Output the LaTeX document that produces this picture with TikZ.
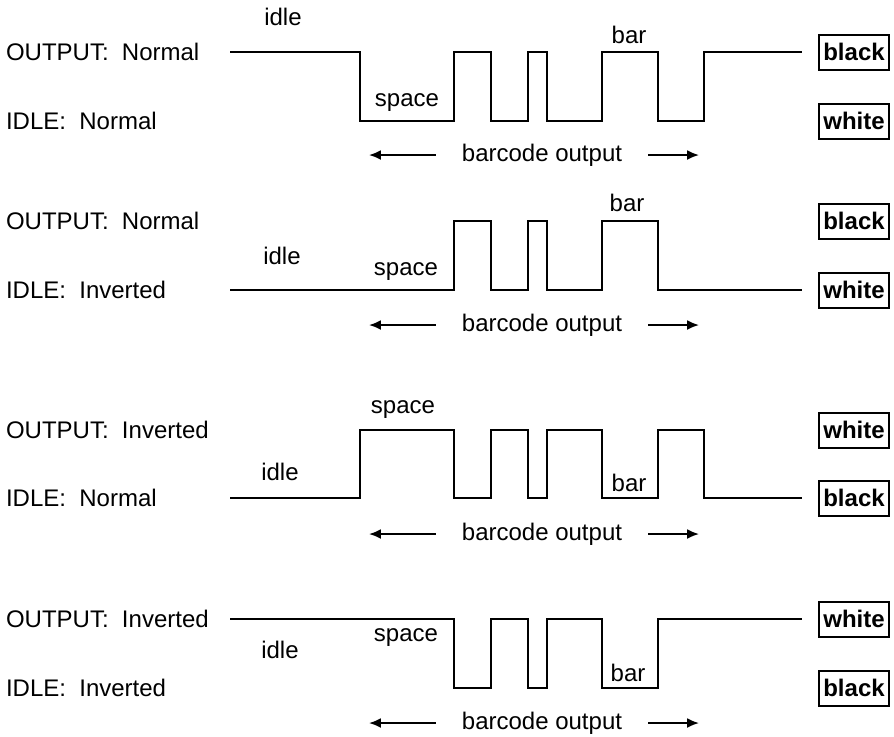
\documentclass[tikz,border=0pt]{standalone}
\usepackage{fontspec}
\setmainfont{Liberation Sans}
\usetikzlibrary{arrows.meta}

\tikzset{
  statebox/.style={draw, line width=1pt, font=\fontsize{12}{14}\selectfont\bfseries,
    minimum width=35pt, minimum height=17.5pt, inner sep=0pt},
  side/.style={anchor=west, inner sep=0pt},
  barcode/.style={inner xsep=12.5pt, inner ysep=0pt}
}

\begin{document}
\begin{tikzpicture}[x=0.5pt, y=-0.5pt, line width=1pt,
  font=\fontsize{12}{14}\selectfont, >={Latex[length=6pt,width=5pt]}]
\useasboundingbox (0,0) rectangle (894,736);

% OUTPUT normal, IDLE normal
\node (o1) at (5,52) [side] {OUTPUT:~ Normal};
\node (i1) at (5,121) [side] {IDLE:~ Normal};
\node (k1) at (854,52) [statebox] {black};
\node (w1) at (854,121) [statebox] {white};
\draw (230,52) -| (360,121) -| (454,52) -| (491,121) -| (528,52) -| (547,121)
  -| (602,52) -| (658,121) -| (704,52) -- (802,52);
\node (idle1) at (283,17) {idle};
\node (space1) at (407,103) {space};
\node (bar1) at (629,35) {bar};
\node (bc1) at (542,155) [barcode] {barcode output};
\draw [->] (bc1.west) -- ++(-67,0) coordinate (l1);
\draw [->] (bc1.east) -- ++(51,0) coordinate (r1);

% OUTPUT normal, IDLE inverted
\node (o2) at (5,221) [side] {OUTPUT:~ Normal};
\node (i2) at (5,290) [side] {IDLE:~ Inverted};
\node (k2) at (854,221) [statebox] {black};
\node (w2) at (854,290) [statebox] {white};
\draw (230,290) -| (454,221) -| (491,290) -| (528,221) -| (547,290)
  -| (602,221) -| (658,290) -- (802,290);
\node (idle2) at (282,256) {idle};
\node (space2) at (406,272) {space};
\node (bar2) at (627,203) {bar};
\node (bc2) at (542,325) [barcode] {barcode output};
\draw [->] (bc2.west) -- ++(-67,0) coordinate (l2);
\draw [->] (bc2.east) -- ++(51,0) coordinate (r2);

% OUTPUT inverted, IDLE normal
\node (o3) at (5,430) [side] {OUTPUT:~ Inverted};
\node (i3) at (5,498) [side] {IDLE:~ Normal};
\node (w3) at (854,430) [statebox] {white};
\node (k3) at (854,498) [statebox] {black};
\draw (230,498) -| (360,430) -| (454,498) -| (491,430) -| (528,498) -| (547,430)
  -| (602,498) -| (658,430) -| (704,498) -- (802,498);
\node (idle3) at (280,472) {idle};
\node (space3) at (403,410) {space};
\node (bar3) at (629,483) {bar};
\node (bc3) at (542,534) [barcode] {barcode output};
\draw [->] (bc3.west) -- ++(-67,0) coordinate (l3);
\draw [->] (bc3.east) -- ++(51,0) coordinate (r3);

% OUTPUT inverted, IDLE inverted
\node (o4) at (5,619) [side] {OUTPUT:~ Inverted};
\node (i4) at (5,688) [side] {IDLE:~ Inverted};
\node (w4) at (854,619) [statebox] {white};
\node (k4) at (854,688) [statebox] {black};
\draw (230,619) -| (454,688) -| (491,619) -| (528,688) -| (547,619)
  -| (602,688) -| (658,619) -- (802,619);
\node (idle4) at (280,650) {idle};
\node (space4) at (406,638) {space};
\node (bar4) at (628,673) {bar};
\node (bc4) at (542,723) [barcode] {barcode output};
\draw [->] (bc4.west) -- ++(-67,0) coordinate (l4);
\draw [->] (bc4.east) -- ++(51,0) coordinate (r4);
\end{tikzpicture}
\end{document}
